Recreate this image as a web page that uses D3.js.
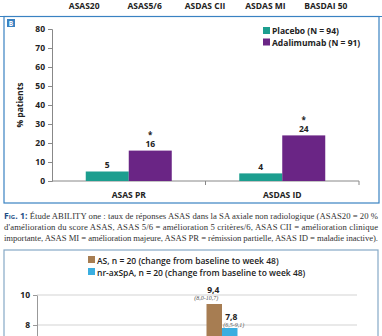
<!DOCTYPE html>
<html lang="fr">
<head>
<meta charset="UTF-8">
<title>ABILITY one</title>
<script src="https://cdn.jsdelivr.net/npm/d3@7"></script>
<style>
  html, body { margin: 0; padding: 0; background: #fff; }
  svg { display: block; }
  .lbl { font-family: "Open Sans", "Noto Sans", sans-serif; font-weight: 700; fill: #222; }
  .cap { font-family: "Liberation Serif", "DejaVu Serif", serif; fill: #333; }
</style>
</head>
<body>
<svg id="page" width="382" height="336"></svg>
<script>
// header row (categories of panel A, above)
var headerLabels = ["ASAS20", "ASAS5/6", "ASDAS CII", "ASDAS MI", "BASDAI 50"];

// panel B
var categoriesB = ["ASAS PR", "ASDAS ID"];
var placebo = [5, 4];
var adalimumab = [16, 24];
var signif = [true, true];
var seriesB = ["Placebo (N = 94)", "Adalimumab (N = 91)"];
var yTicksB = [0, 10, 20, 30, 40, 50, 60, 70, 80];

// caption
var captionLines = [
  "Étude ABILITY one : taux de réponses ASAS dans la SA axiale non radiologique (ASAS20 = 20 %",
  "d'amélioration du score ASAS, ASAS 5/6 = amélioration 5 critères/6, ASAS CII = amélioration clinique",
  "importante, ASAS MI = amélioration majeure, ASAS PR = rémission partielle, ASAS ID = maladie inactive)."
];

// panel C
var seriesC = ["AS, n = 20 (change from baseline to week 48)", "nr-axSpA, n = 20 (change from baseline to week 48)"];
var asVals = [9.4];
var nrVals = [7.8];
var asCI = ["(8,0-10,7)"];
var nrCI = ["(6,5-9,1)"];
var yTicksC = [0, 2, 4, 6, 8, 10];

var teal = "#1c9e8f", purple = "#6a2585", frameBlue = "#3a82c2";
var brown = "#a77d52", sky = "#3aaee0";

var W = 382, H = 336;
var svg = d3.select("#page");

// header labels
var xh = d3.scaleBand().domain(headerLabels).range([54, 356]);
svg.append("g").selectAll("text")
  .data(headerLabels).enter().append("text")
  .attr("class", "lbl")
  .attr("x", function(d) { return xh(d) + xh.bandwidth() / 2; })
  .attr("y", 9)
  .attr("text-anchor", "middle")
  .style("font-size", "8.5px")
  .text(function(d) { return d; });

// ---------- panel B ----------
svg.append("line").attr("x1", 0).attr("x2", W).attr("y1", 16.5).attr("y2", 16.5)
  .attr("stroke", frameBlue).attr("stroke-width", 1.2);
svg.append("rect").attr("x", 4).attr("y", 16.5).attr("width", 375).attr("height", 186.5)
  .attr("fill", "none").attr("stroke", frameBlue).attr("stroke-width", 1.2);
svg.append("rect").attr("x", 7).attr("y", 19).attr("width", 8).attr("height", 8).attr("fill", frameBlue);
svg.append("text").attr("x", 11).attr("y", 25.5).attr("text-anchor", "middle")
  .style("font-family", "Open Sans, sans-serif").style("font-weight", 700)
  .style("font-size", "6.5px").attr("fill", "#fff").text("B");

var xB = d3.scaleBand().domain(categoriesB).range([52, 359]);
var yB = d3.scaleLinear().domain([0, 80]).range([181, 29]);
var groupW = 86;

var gB = svg.append("g");
gB.append("g")
  .attr("transform", "translate(52,0)")
  .call(d3.axisLeft(yB).tickValues(yTicksB).tickSize(4).tickPadding(3))
  .call(function(g) {
    g.select(".domain").attr("stroke", "#888");
    g.selectAll(".tick line").attr("stroke", "#888");
    g.selectAll("text").attr("class", "lbl").style("font-size", "8.5px").attr("fill", "#222");
  });
gB.append("g")
  .attr("transform", "translate(0,181)")
  .call(d3.axisBottom(xB).tickSize(0).tickFormat(""))
  .call(function(g) {
    g.select(".domain").attr("stroke", "#888").attr("d", "M52,0H359");
  });
// band boundary ticks
gB.selectAll(".bt").data(xB.domain().slice(1).map(function(d) { return xB(d); }).concat([359]))
  .enter().append("line")
  .attr("x1", function(d) { return d; }).attr("x2", function(d) { return d; })
  .attr("y1", 181).attr("y2", 185).attr("stroke", "#888");

gB.selectAll(".xl").data(categoriesB).enter().append("text")
  .attr("class", "lbl")
  .attr("x", function(d) { return xB(d) + xB.bandwidth() / 2; })
  .attr("y", 198)
  .attr("text-anchor", "middle")
  .style("font-size", "8.5px")
  .text(function(d) { return d; });

gB.append("text").attr("class", "lbl")
  .attr("transform", "translate(23,105) rotate(-90)")
  .attr("text-anchor", "middle").style("font-size", "8.5px").text("% patients");

var rowsB = categoriesB.map(function(c, i) {
  return { cat: c, vals: [placebo[i], adalimumab[i]], sig: signif[i] };
});
var xs = d3.scaleBand().domain([0, 1]).range([0, groupW]);
var grp = gB.selectAll(".grp").data(rowsB).enter().append("g")
  .attr("transform", function(d) {
    return "translate(" + (xB(d.cat) + xB.bandwidth() / 2 - groupW / 2) + ",0)";
  });
grp.selectAll("rect").data(function(d) { return d.vals; }).enter().append("rect")
  .attr("x", function(d, i) { return xs(i); })
  .attr("width", xs.bandwidth())
  .attr("y", function(d) { return yB(d); })
  .attr("height", function(d) { return yB(0) - yB(d); })
  .attr("fill", function(d, i) { return i === 0 ? teal : purple; });
grp.selectAll(".v").data(function(d) { return d.vals; }).enter().append("text")
  .attr("class", "lbl")
  .attr("x", function(d, i) { return xs(i) + xs.bandwidth() / 2; })
  .attr("y", function(d) { return yB(d) - 3.5; })
  .attr("text-anchor", "middle").style("font-size", "8.5px")
  .text(function(d) { return d; });
// significance star above the adalimumab value
grp.filter(function(d) { return d.sig; }).append("text")
  .attr("class", "lbl")
  .attr("x", xs(1) + xs.bandwidth() / 2)
  .attr("y", function(d) { return yB(d.vals[1]) - 15; })
  .attr("dominant-baseline", "middle")
  .attr("text-anchor", "middle").style("font-size", "8px")
  .text("*");

var legB = gB.append("g").attr("transform", "translate(263,27)");
legB.selectAll("rect").data(seriesB).enter().append("rect")
  .attr("x", 0).attr("y", function(d, i) { return i * 11.5; })
  .attr("width", 7).attr("height", 7)
  .attr("fill", function(d, i) { return i === 0 ? teal : purple; });
legB.selectAll("text").data(seriesB).enter().append("text")
  .attr("class", "lbl")
  .attr("x", 9).attr("y", function(d, i) { return i * 11.5 + 7; })
  .style("font-size", "8.5px")
  .text(function(d) { return d; });

// ---------- caption ----------
var cap = svg.append("g");
captionLines.forEach(function(line, i) {
  var t = cap.append("text").attr("class", "cap")
    .attr("x", 4).attr("y", 219 + i * 11)
    .attr("textLength", 374).attr("lengthAdjust", "spacing")
    .style("font-size", "8.7px");
  if (i === 0) {
    t.append("tspan").style("font-variant", "small-caps").style("font-weight", 700)
      .style("font-family", "Open Sans, sans-serif").attr("fill", "#1f4f86").text("Fig. 1: ");
  }
  t.append("tspan").text(line);
});

// ---------- panel C ----------
svg.append("rect").attr("x", 4).attr("y", 250).attr("width", 374).attr("height", 100)
  .attr("fill", "none").attr("stroke", "#86a9c6").attr("stroke-width", 1.2);

var legC = svg.append("g").attr("transform", "translate(88,256)");
legC.selectAll("rect").data(seriesC).enter().append("rect")
  .attr("x", 0).attr("y", function(d, i) { return i * 12; })
  .attr("width", 7).attr("height", 7)
  .attr("fill", function(d, i) { return i === 0 ? brown : sky; });
legC.selectAll("text").data(seriesC).enter().append("text")
  .attr("class", "lbl")
  .attr("x", 9).attr("y", function(d, i) { return i * 12 + 7.5; })
  .style("font-size", "8.5px").style("font-weight", 600)
  .text(function(d) { return d; });

var yC = d3.scaleLinear().domain([0, 10]).range([445, 295]);
var xC = d3.scaleBand().domain(["g"]).range([150, 294]);
// only ticks that fall inside the page
var shownC = yTicksC.filter(function(v) { return yC(v) < H - 4; });
var gC = svg.append("g");
gC.append("g").attr("class", "grid").selectAll("line")
  .data(yTicksC.filter(function(v) { return v > 0; })).enter().append("line")
  .attr("x1", 37).attr("x2", 357)
  .attr("y1", function(d) { return yC(d); }).attr("y2", function(d) { return yC(d); })
  .attr("stroke", "#c8c8c8").attr("stroke-width", 0.8);
gC.append("g")
  .attr("transform", "translate(37,0)")
  .call(d3.axisLeft(yC).tickValues(shownC).tickSize(4).tickPadding(3).tickSizeOuter(0))
  .call(function(g) {
    g.select(".domain").attr("stroke", "#999");
    g.selectAll(".tick line").attr("stroke", "#999");
    g.selectAll("text").attr("class", "lbl").style("font-size", "8.5px").attr("fill", "#222");
  });

var cx = xC("g") + xC.bandwidth() / 2;
var bw = 15.5;
var rowsC = [
  { v: asVals[0], ci: asCI[0], c: brown, x: cx - bw },
  { v: nrVals[0], ci: nrCI[0], c: sky, x: cx }
];
gC.selectAll(".bar").data(rowsC).enter().append("rect")
  .attr("x", function(d) { return d.x; })
  .attr("width", bw)
  .attr("y", function(d) { return yC(d.v); })
  .attr("height", function(d) { return yC(0) - yC(d.v); })
  .attr("fill", function(d) { return d.c; });
gC.selectAll(".val").data(rowsC).enter().append("text")
  .attr("class", "lbl")
  .attr("x", function(d, i) { return d.x + bw / 2 - (i === 0 ? 1 : -1.5); })
  .attr("y", function(d, i) { return yC(d.v) - (i === 0 ? 11 : 8.5); })
  .attr("text-anchor", "middle").style("font-size", "8.5px")
  .text(function(d) { return d3.format(".1f")(d.v).replace(".", ","); });
gC.selectAll(".ci").data(rowsC).enter().append("text")
  .attr("x", function(d, i) { return d.x + bw / 2 - (i === 0 ? 8 : -4); })
  .attr("y", function(d, i) { return yC(d.v) - (i === 0 ? 4.5 : 1.5); })
  .attr("text-anchor", "middle")
  .style("font-family", "Liberation Serif, serif").style("font-style", "italic")
  .style("font-size", "6px").attr("fill", "#555")
  .text(function(d) { return d.ci; });
</script>
</body>
</html>
